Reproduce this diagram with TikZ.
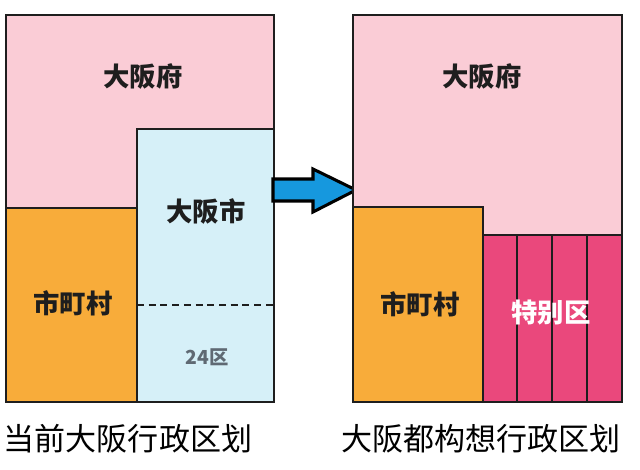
\documentclass[tikz,border=0pt]{standalone}
\usepackage{fontspec}
\setmainfont{Noto Sans CJK SC}
\usepackage{tikz}
\usetikzlibrary{positioning}
\definecolor{fupink}{RGB}{250,204,214}
\definecolor{shiblue}{RGB}{214,240,248}
\definecolor{sonorange}{RGB}{248,172,58}
\definecolor{kumagenta}{RGB}{234,72,124}
\definecolor{arrblue}{RGB}{22,152,222}
\definecolor{wardgray}{RGB}{95,105,115}
\definecolor{inkdark}{RGB}{30,30,30}
\tikzset{
  region/.style={draw=inkdark, line width=2.2pt, line join=miter},
  divider/.style={draw=inkdark, line width=2pt},
  lbl/.style={font=\fontsize{22.5}{22.5}\selectfont\bfseries, text=inkdark, inner sep=0pt},
  smalllbl/.style={font=\fontsize{16.5}{16.5}\selectfont\bfseries, text=wardgray, inner sep=0pt},
  caption/.style={font=\fontsize{26.5}{26.5}\selectfont, text=black, inner sep=0pt}
}

\begin{document}
\begin{tikzpicture}[x=0.03cm, y=-0.03cm]
  \useasboundingbox (0,0) rectangle (640,469);

  % Current division
  \draw[region, fill=fupink] (6,15) rectangle (274,402);
  \draw[region, fill=sonorange] (6,208) rectangle (137,402);
  \draw[region, fill=shiblue] (137,129) rectangle (274,402);
  \draw[inkdark, line width=1.2pt, dash pattern=on 6pt off 4pt] (137,305) -- (274,305);
  \node[lbl] (fuA) at (143,76) {大阪府};
  \node[lbl] (shiA) at (206,211) {大阪市};
  \node[lbl] (sonA) at (73,303) {市町村};
  \node[smalllbl] (wardsA) at (207,357) {24区};
  \node[caption] (capA) at (128,439) {当前大阪行政区划};

  % Arrow
  \draw[draw=black, line width=2.6pt, fill=arrblue, line join=miter]
    (273,179) -- (313,179) -- (313,169) -- (356,190) -- (313,212) -- (313,201) -- (273,201) -- cycle;

  % Osaka Metropolis plan
  \draw[region, fill=fupink] (353,15) rectangle (622,402);
  \draw[region, fill=sonorange] (353,207) rectangle (483,402);
  \draw[region, fill=kumagenta] (483,235) rectangle (622,402);
  \foreach \xx in {517,552,587}
    \draw[divider] (\xx,235) -- (\xx,402);
  \draw[region] (353,15) rectangle (622,402);
  \node[lbl] (fuB) at (482,76) {大阪府};
  \node[lbl] (sonB) at (420,304) {市町村};
  \node[lbl, text=white] (kuB) at (551,313) {特别区};
  \node[caption] (capB) at (481,439) {大阪都构想行政区划};
\end{tikzpicture}
\end{document}
